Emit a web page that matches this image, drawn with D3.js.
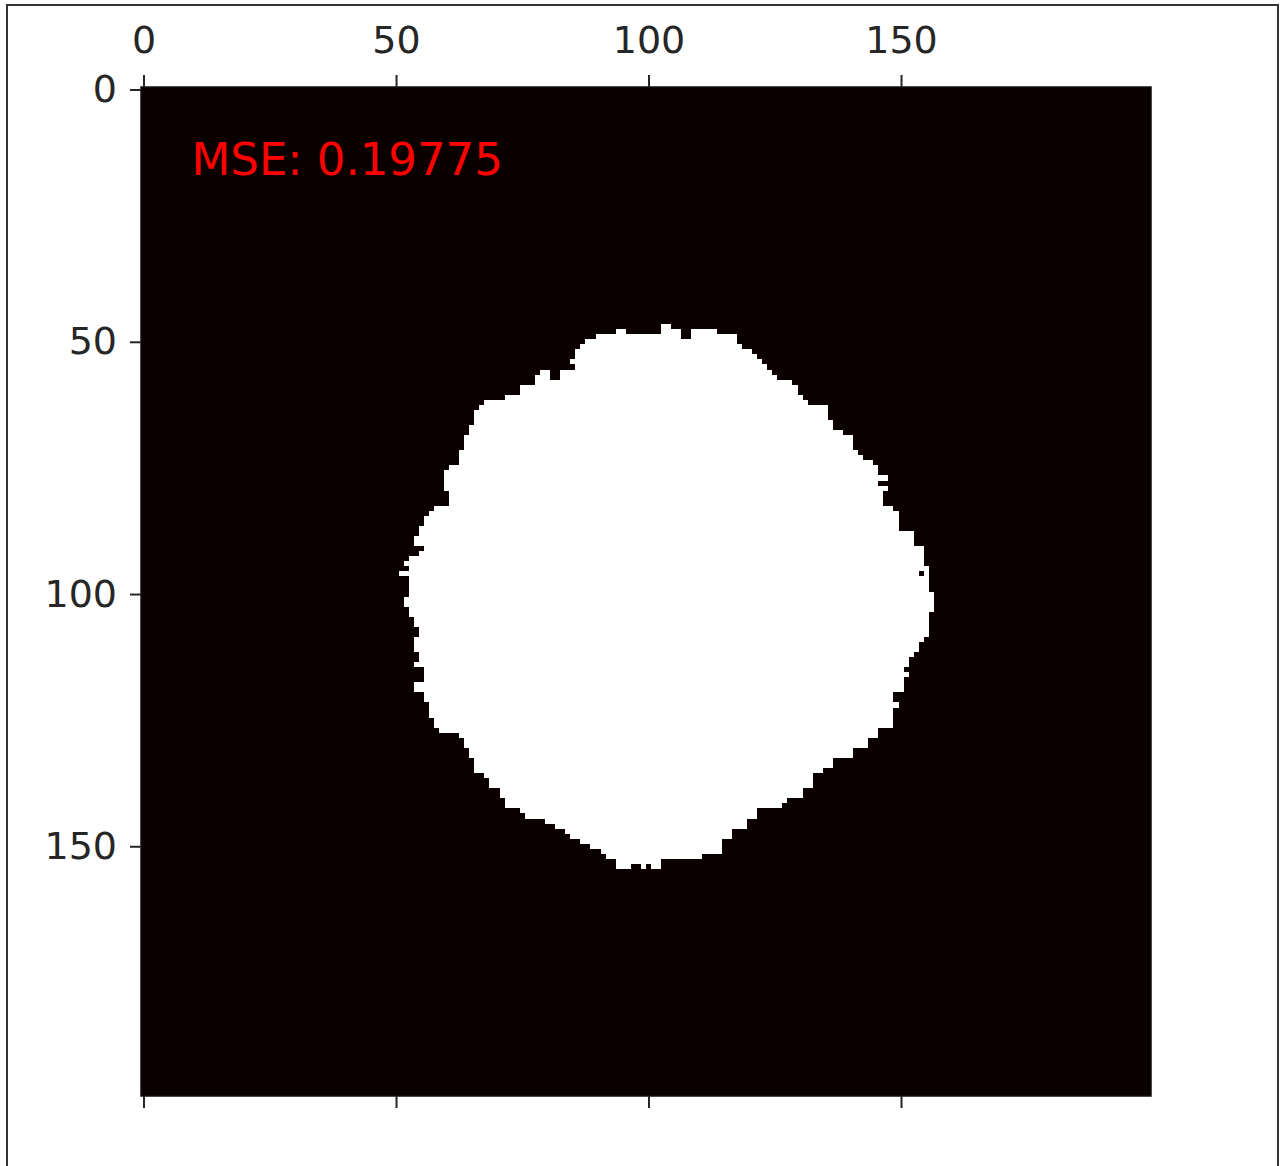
<!DOCTYPE html>
<html>
<head>
<meta charset="utf-8">
<title>MSE mask</title>
<script src="https://d3js.org/d3.v7.min.js"></script>
<style>
    body {
        margin: 0;
        background: #fff;
    }

    svg {
        display: block;
    }

    .tick text {
        font-family: 'DejaVu Sans', sans-serif;
        font-size: 38px;
        fill: #262626;
    }

    .tick line {
        stroke: #262626;
        stroke-width: 2px;
    }

    .domain {
        display: none;
    }

    .cell {
        shape-rendering: crispEdges;
    }

    .mse {
        font-family: 'DejaVu Sans', sans-serif;
        font-size: 45px;
        fill: #ff0000;
    }
</style>
</head>
<body>
<div id="chart"></div>
<script>
    // 200x200 binary mask, shown with the "hot" colormap (0 -> near black, 1 -> white)
    const gridSize = 200;
    const xTicks = [0, 50, 100, 150];
    const yTicks = [0, 50, 100, 150];
    const mseLabel = "MSE: 0.19775";
    const labelPos = [9.5, 17];   // data coords (col, row) of the label baseline

    // white region, one run per row: first and last white column
    const firstRow = 47;
    const leftCol = [
        103, 94, 90, 88, 87, 86, 86, 85, 86, 79,
        78, 78, 75, 75, 72, 68, 67, 66, 66, 66,
        65, 65, 64, 64, 64, 63, 63, 63, 61, 60,
        60, 60, 60, 61, 61, 61, 58, 57, 56, 56,
        55, 55, 54, 54, 56, 55, 53, 52, 53, 51,
        53, 53, 53, 53, 52, 52, 53, 53, 54, 54,
        55, 55, 54, 54, 54, 55, 55, 54, 56, 56,
        56, 54, 54, 56, 56, 57, 57, 57, 58, 58,
        59, 63, 64, 64, 65, 65, 66, 66, 66, 68,
        69, 69, 71, 71, 72, 72, 75, 76, 80, 82,
        84, 85, 87, 89, 91, 92, 94, 94
    ];
    const rightCol = [
        104, 113, 117, 117, 118, 120, 121, 122, 123, 124,
        125, 128, 129, 129, 130, 131, 135, 135, 135, 136,
        136, 138, 140, 140, 140, 141, 142, 144, 145, 145,
        147, 145, 147, 146, 146, 146, 148, 149, 149, 149,
        149, 152, 152, 152, 154, 154, 154, 154, 155, 155,
        155, 155, 155, 156, 156, 156, 156, 155, 155, 155,
        155, 155, 154, 153, 153, 152, 151, 151, 150, 151,
        150, 150, 150, 148, 148, 149, 148, 148, 148, 148,
        145, 145, 143, 143, 140, 140, 136, 136, 134, 132,
        132, 132, 130, 130, 127, 126, 121, 121, 119, 119,
        116, 116, 114, 114, 114, 110, 102, 102
    ];
    // black notches inside a run: [row, fromCol, toCol]
    const holes = [
        [48, 96, 102], [48, 107, 108], [49, 107, 108],
        [56, 81, 82], [57, 81, 82], [96, 154, 154],
        [154, 97, 98], [154, 100, 100]
    ];

    const width = 1283, height = 1166;

    const x = d3.scaleLinear().domain([-0.5, gridSize - 0.5]).range([141, 1151]);
    const y = d3.scaleLinear().domain([-0.5, gridSize - 0.5]).range([87, 1096]);
    const cmap = v => v ? "#ffffff" : "#0b0000";

    const runs = leftCol.map((l, i) => ({ row: firstRow + i, c0: l, c1: rightCol[i] }));

    const svg = d3.select('#chart').append('svg')
        .attr('width', width)
        .attr('height', height);

    // figure frame
    svg.append('rect')
        .attr('x', 7).attr('y', 5)
        .attr('width', 1271).attr('height', height)
        .attr('fill', '#fff')
        .attr('stroke', '#333')
        .attr('stroke-width', 2);

    // image background (zeros)
    svg.append('rect')
        .attr('class', 'cell')
        .attr('x', x(-0.5)).attr('y', y(-0.5))
        .attr('width', x(gridSize - 0.5) - x(-0.5))
        .attr('height', y(gridSize - 0.5) - y(-0.5))
        .attr('fill', cmap(0));

    // ones
    svg.append('g')
        .selectAll('rect')
        .data(runs)
        .join('rect')
        .attr('class', 'cell')
        .attr('x', d => x(d.c0 - 0.5))
        .attr('y', d => y(d.row - 0.5))
        .attr('width', d => x(d.c1 + 0.5) - x(d.c0 - 0.5))
        .attr('height', d => y(d.row + 0.5) - y(d.row - 0.5))
        .attr('fill', cmap(1));

    svg.append('g')
        .selectAll('rect')
        .data(holes)
        .join('rect')
        .attr('class', 'cell')
        .attr('x', d => x(d[1] - 0.5))
        .attr('y', d => y(d[0] - 0.5))
        .attr('width', d => x(d[2] + 0.5) - x(d[1] - 0.5))
        .attr('height', d => y(d[0] + 0.5) - y(d[0] - 0.5))
        .attr('fill', cmap(0));

    // spines
    svg.append('rect')
        .attr('x', x(-0.5)).attr('y', y(-0.5))
        .attr('width', x(gridSize - 0.5) - x(-0.5))
        .attr('height', y(gridSize - 0.5) - y(-0.5))
        .attr('fill', 'none')
        .attr('stroke', '#111')
        .attr('stroke-width', 1.5);

    // axes: labels on top and left, bare ticks at the bottom
    svg.append('g')
        .attr('transform', `translate(0,${y(-0.5)})`)
        .call(d3.axisTop(x).tickValues(xTicks).tickSize(12).tickPadding(22));

    svg.append('g')
        .attr('transform', `translate(0,${y(gridSize - 0.5)})`)
        .call(d3.axisBottom(x).tickValues(xTicks).tickSize(12).tickFormat(''));

    svg.append('g')
        .attr('transform', `translate(${x(-0.5)},0)`)
        .call(d3.axisLeft(y).tickValues(yTicks).tickSize(11).tickPadding(13));

    svg.append('text')
        .attr('class', 'mse')
        .attr('x', x(labelPos[0]))
        .attr('y', y(labelPos[1]))
        .text(mseLabel);
</script>
</body>
</html>
